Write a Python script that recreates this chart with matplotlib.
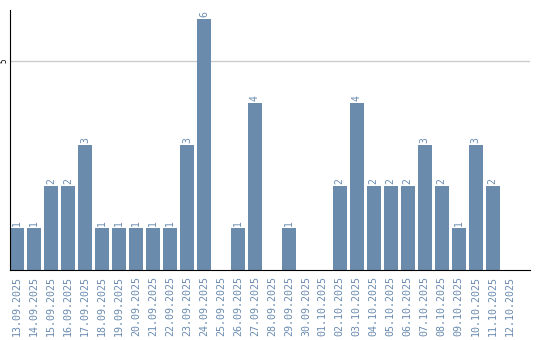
import matplotlib
matplotlib.use("Agg")
import matplotlib.pyplot as plt

dates = ["13.09.2025", "14.09.2025", "15.09.2025", "16.09.2025", "17.09.2025",
         "18.09.2025", "19.09.2025", "20.09.2025", "21.09.2025", "22.09.2025",
         "23.09.2025", "24.09.2025", "25.09.2025", "26.09.2025", "27.09.2025",
         "28.09.2025", "29.09.2025", "30.09.2025", "01.10.2025", "02.10.2025",
         "03.10.2025", "04.10.2025", "05.10.2025", "06.10.2025", "07.10.2025",
         "08.10.2025", "09.10.2025", "10.10.2025", "11.10.2025", "12.10.2025"]
counts = [1, 1, 2, 2, 3, 1, 1, 1, 1, 1, 3, 6, 0, 1, 4,
          0, 1, 0, 0, 2, 4, 2, 2, 2, 3, 2, 1, 3, 2, 0]
yticks = [5]

bar_color = "#6a8bab"
label_color = "#6a8bb0"

fig = plt.figure(figsize=(5.4, 3.4), dpi=100)
ax = fig.add_axes([10/540, 70/340, 520/540, 260/340])

x = list(range(len(dates)))
ax.bar(x, counts, width=0.82, color=bar_color, zorder=2)
for xi, c in zip(x, counts):
    if c > 0:
        ax.text(xi, c + 0.05, str(c), rotation=90, ha="center", va="bottom",
                color=label_color, fontsize=7, family="DejaVu Sans Mono")

ax.set_xlim(-0.42, 30.2)
ax.set_ylim(0, 6.22)
ax.set_yticks(yticks)
ax.set_yticklabels([str(v) for v in yticks], rotation=90, va="center",
                   fontsize=5.5, family="DejaVu Sans Mono")
ax.tick_params(axis="y", length=0, pad=1)
ax.grid(axis="y", color="#cccccc", linewidth=1, zorder=0)

ax.set_xticks(x)
ax.set_xticklabels(dates, rotation=90, fontsize=7.2, color=label_color,
                   family="DejaVu Sans Mono")
ax.tick_params(axis="x", length=0, pad=4)

for s in ["top", "right"]:
    ax.spines[s].set_visible(False)
ax.spines["left"].set_color("black")
ax.spines["bottom"].set_color("black")

fig.savefig("out.png", dpi=100)
